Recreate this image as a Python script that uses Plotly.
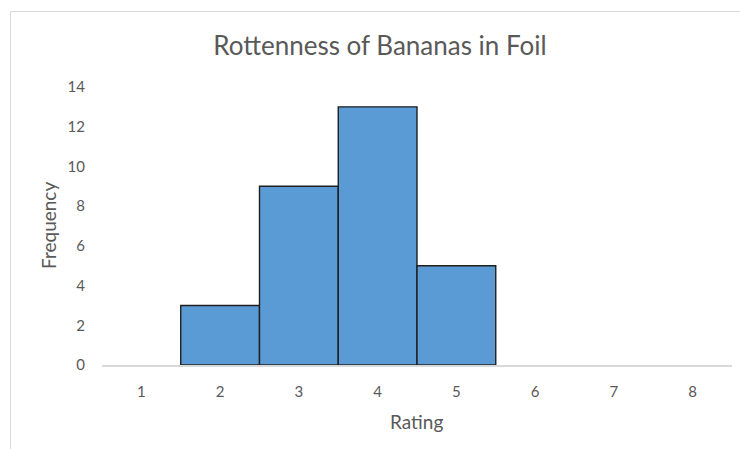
import plotly.graph_objects as go

# Histogram of banana rottenness ratings
ratings = [1, 2, 3, 4, 5, 6, 7, 8]
frequency = [0, 3, 9, 13, 5, 0, 0, 0]
y_ticks = [0, 2, 4, 6, 8, 10, 12, 14]

W, H = 740, 449
L, R, T, B = 102, 8, 87, 84
pw, ph = W - L - R, H - T - B

def px_x(x):
    return (x - L) / pw

def px_y(y):
    return (H - B - y) / ph

text_col = "#595959"
font_family = "Lato, Calibri, Carlito, sans-serif"

fig = go.Figure(
    go.Bar(
        x=ratings,
        y=frequency,
        width=1,
        marker=dict(
            color="#5B9BD5",
            line=dict(color="#1f1f1f", width=[0 if f == 0 else 1.4 for f in frequency]),
        ),
        hoverinfo="x+y",
    )
)

fig.update_layout(
    width=W,
    height=H,
    margin=dict(l=L, r=R, t=T, b=B),
    paper_bgcolor="white",
    plot_bgcolor="white",
    showlegend=False,
    font=dict(family=font_family, color=text_col),
    title=dict(
        text="Rottenness of Bananas in Foil",
        x=380 / W,
        xref="container",
        xanchor="center",
        y=1 - 46 / H,
        yref="container",
        yanchor="middle",
        font=dict(size=26, color=text_col, family=font_family),
    ),
    xaxis=dict(
        range=[0.5, 8.5],
        tickvals=ratings,
        ticktext=[str(r) for r in ratings],
        showgrid=False,
        zeroline=False,
        showline=True,
        linecolor="#D9D9D9",
        linewidth=1.5,
        ticks="",
        ticklabelstandoff=12,
        tickfont=dict(size=15, color=text_col),
        fixedrange=True,
    ),
    yaxis=dict(
        range=[0, 14],
        tickvals=y_ticks,
        showgrid=False,
        zeroline=False,
        showline=False,
        ticks="",
        ticklabelstandoff=16,
        tickfont=dict(size=15, color=text_col),
        fixedrange=True,
    ),
    annotations=[
        dict(
            text="Frequency",
            xref="paper", yref="paper",
            x=px_x(48), y=px_y(226),
            showarrow=False, textangle=-90,
            xanchor="center", yanchor="middle",
            font=dict(size=19, color=text_col),
        ),
        dict(
            text="Rating",
            xref="paper", yref="paper",
            x=px_x(416), y=px_y(421),
            showarrow=False,
            xanchor="center", yanchor="middle",
            font=dict(size=19, color=text_col),
        ),
    ],
    shapes=[
        dict(
            type="rect",
            xref="paper", yref="paper",
            x0=px_x(10.5), x1=px_x(760),
            y0=px_y(470), y1=px_y(11.5),
            line=dict(color="#D9D9D9", width=1),
            fillcolor="rgba(0,0,0,0)",
            layer="below",
        )
    ],
)

fig.write_html("out.html")
